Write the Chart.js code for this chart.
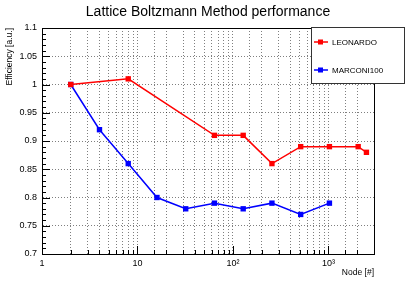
<!DOCTYPE html>
<html>
<head>
<meta charset="utf-8">
<script src="https://cdn.jsdelivr.net/npm/chart.js@4/dist/chart.umd.min.js"></script>
<style>
  html, body { margin: 0; padding: 0; background: #fff; }
  #wrap { width: 415px; height: 281px; position: relative; }
</style>
</head>
<body>
<div id="wrap"><canvas id="c"></canvas></div>
<script>
// values
const leoNodes = [2, 8, 64, 128, 256, 512, 1024, 2048, 2500];
const leoEff   = [1.0, 1.01, 0.91, 0.91, 0.86, 0.89, 0.89, 0.89, 0.88];
const m100Nodes = [2, 4, 8, 16, 32, 64, 128, 256, 512, 1024];
const m100Eff   = [1.0, 0.92, 0.86, 0.80, 0.78, 0.79, 0.78, 0.79, 0.77, 0.79];
const seriesNames = ['LEONARDO', 'MARCONI100'];
const seriesColors = ['#ff0000', '#0000ff'];
const decadeLabels = ['1', '10', '10\u00b2', '10\u00b3'];

const FONT = '"Liberation Sans", Arial, sans-serif';

function pts(xs, ys){ return xs.map((x, i) => ({ x: x, y: ys[i] })); }

// ROOT-ish extras: title, axis titles, inward ticks, boxed legend
const rootStyle = {
  id: 'rootStyle',
  afterDraw(chart){
    const ctx = chart.ctx, a = chart.chartArea;
    const xs = chart.scales.x, ys = chart.scales.y;
    ctx.save();

    // inward tick marks
    ctx.strokeStyle = '#000'; ctx.lineWidth = 1; ctx.setLineDash([]);
    ctx.beginPath();
    for (let k = 0; k <= 40; k++){
      const v = 0.7 + k * 0.01;
      const y = Math.round(ys.getPixelForValue(v)) + 0.5;
      const len = (k % 5 === 0) ? 8 : 4;
      ctx.moveTo(a.left, y); ctx.lineTo(a.left + len, y);
    }
    xs.ticks.forEach(t => {
      const x = Math.round(xs.getPixelForValue(t.value)) + 0.5;
      const l = Math.log10(t.value);
      const len = Math.abs(l - Math.round(l)) < 1e-9 ? 8 : 4;
      ctx.moveTo(x, a.bottom); ctx.lineTo(x, a.bottom - len);
    });
    ctx.stroke();

    // title
    ctx.fillStyle = '#000';
    ctx.font = '14px ' + FONT;
    ctx.textAlign = 'center'; ctx.textBaseline = 'middle';
    ctx.fillText('Lattice Boltzmann Method performance', 208, 12);

    // axis titles
    ctx.font = '8.5px ' + FONT;
    ctx.textAlign = 'right';
    ctx.fillText('Node [#]', a.right, 273);
    ctx.save();
    ctx.translate(10, a.top);
    ctx.rotate(-Math.PI / 2);
    ctx.textAlign = 'right';
    ctx.fillText('Efficiency [a.u.]', 0, 0);
    ctx.restore();

    // legend box
    const bx = 311, by = 27, bw = 93, bh = 56;
    ctx.fillStyle = '#fff';
    ctx.fillRect(bx, by, bw, bh);
    ctx.strokeStyle = '#333';
    ctx.strokeRect(bx + 0.5, by + 0.5, bw, bh);
    ctx.font = '8px ' + FONT;
    ctx.textAlign = 'left';
    seriesNames.forEach((name, i) => {
      const ly = by + 15 + i * 28;
      ctx.strokeStyle = seriesColors[i]; ctx.fillStyle = seriesColors[i];
      ctx.lineWidth = 1.5;
      ctx.beginPath(); ctx.moveTo(bx + 3, ly); ctx.lineTo(bx + 17, ly); ctx.stroke();
      ctx.fillRect(bx + 7, ly - 2.5, 5, 5);
      ctx.fillStyle = '#000';
      ctx.fillText(name, bx + 21, ly + 0.5);
    });
    ctx.restore();
  }
};

const gridStyle = { color: 'rgba(0,0,0,0.5)', lineWidth: 1, drawTicks: false };
const borderStyle = { display: true, color: '#000', width: 1, dash: [1, 2] };

new Chart(document.getElementById('c'), {
  type: 'line',
  data: {
    datasets: [
      { label: seriesNames[0], data: pts(leoNodes, leoEff) },
      { label: seriesNames[1], data: pts(m100Nodes, m100Eff) }
    ].map((d, i) => Object.assign(d, {
      borderColor: seriesColors[i], backgroundColor: seriesColors[i],
      borderWidth: 1.5, pointStyle: 'rect', pointRadius: 3.8, pointBorderWidth: 0,
      tension: 0, fill: false
    }))
  },
  options: {
    responsive: true, maintainAspectRatio: false, animation: false,
    layout: { padding: { left: 12, right: 41, top: 28, bottom: 12 } },
    plugins: { legend: { display: false }, title: { display: false }, tooltip: { enabled: false } },
    scales: {
      x: {
        type: 'logarithmic', min: 1, max: 3000,
        grid: gridStyle,
        border: borderStyle,
        ticks: {
          autoSkip: false, maxRotation: 0, padding: 4, color: '#000',
          font: { family: FONT, size: 9 },
          callback: v => {
            const l = Math.log10(v);
            if (Math.abs(l - Math.round(l)) < 1e-9) return decadeLabels[Math.round(l)];
            return '';
          }
        },
        afterFit: s => { s.height = 15; }
      },
      y: {
        min: 0.7, max: 1.1,
        grid: gridStyle,
        border: borderStyle,
        ticks: {
          stepSize: 0.05, padding: 5, color: '#000',
          font: { family: FONT, size: 9 },
          callback: v => String(parseFloat(v.toFixed(2)))
        },
        afterFit: s => { s.width = 30; }
      }
    }
  },
  plugins: [rootStyle, {
    id: 'frame',
    afterDatasetsDraw(chart){
      const ctx = chart.ctx, a = chart.chartArea;
      ctx.save();
      ctx.strokeStyle = '#000'; ctx.lineWidth = 1; ctx.setLineDash([]);
      ctx.strokeRect(Math.round(a.left) + 0.5, Math.round(a.top) + 0.5,
        Math.round(a.right - a.left), Math.round(a.bottom - a.top));
      ctx.restore();
    }
  }]
});
</script>
</body>
</html>
